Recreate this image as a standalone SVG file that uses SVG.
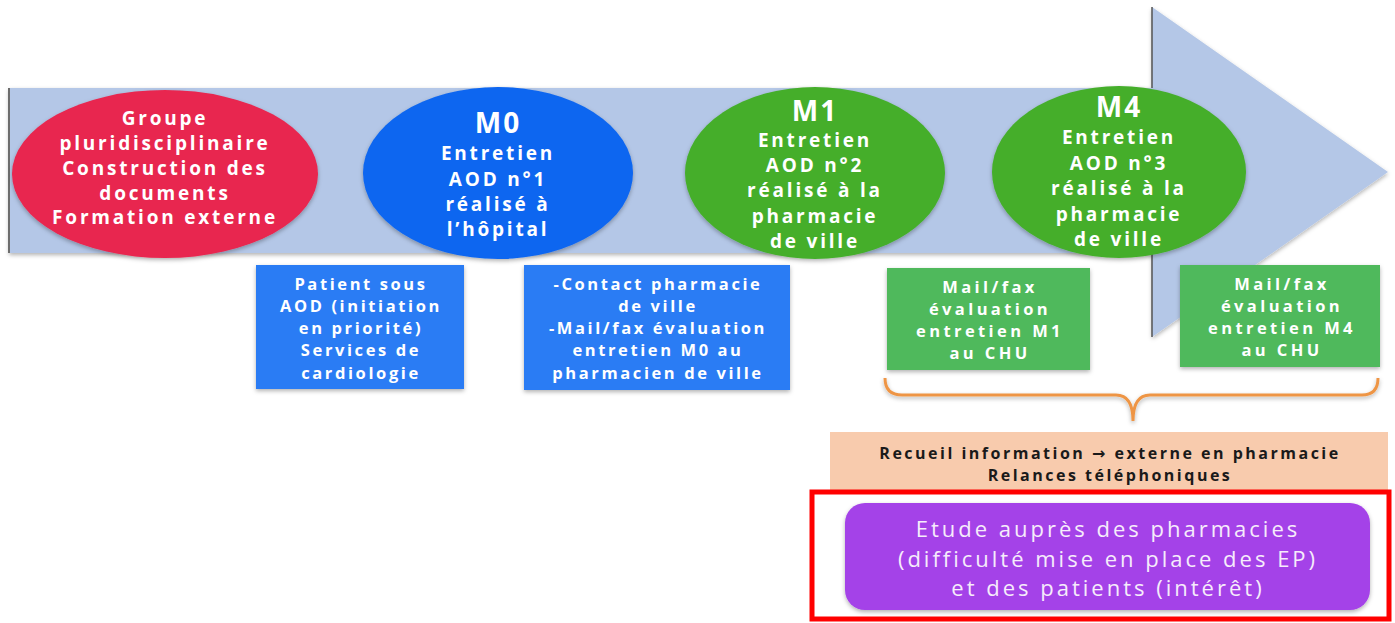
<svg xmlns="http://www.w3.org/2000/svg" width="1395" height="623" viewBox="0 0 1395 623">
<style>
  .t { font-family: "Open Sans", "Liberation Sans", sans-serif; font-weight: 700; fill: #ffffff; text-anchor: middle; }
  .c { font-size: 19px; letter-spacing: 2.8px; }
  .big { font-size: 28px; letter-spacing: 2px; }
  .bx { font-size: 16.5px; letter-spacing: 2.6px; }
  .gx { font-size: 16.5px; letter-spacing: 3.4px; }
  .pe { font-family: "Open Sans", "Liberation Sans", sans-serif; font-weight: 700; fill: #1a1a1a; text-anchor: middle; font-size: 16px; letter-spacing: 2.5px; }
  .ar { font-family: "DejaVu Sans", sans-serif; font-weight: 700; }
  .pu { font-family: "Open Sans", "Liberation Sans", sans-serif; font-weight: 400; fill: #f6ecfb; text-anchor: middle; font-size: 22px; letter-spacing: 3px; }
</style>
<defs>
  <filter id="sh" x="-10%" y="-10%" width="120%" height="130%">
    <feDropShadow dx="0" dy="2" stdDeviation="2" flood-color="#000" flood-opacity="0.3"/>
  </filter>
</defs>
<rect width="1395" height="623" fill="#ffffff"/>

<g id="arrow">
  <polygon points="9,88 1152,88 1152,7 1388,172 1152,337 1152,253 9,253" fill="#b4c7e7" filter="url(#sh)"/>
  <line x1="9" y1="88" x2="9" y2="253" stroke="#6d6d6d" stroke-width="2"/>
  <line x1="1152" y1="7" x2="1152" y2="88" stroke="#555" stroke-width="1.5"/>
  <line x1="1152" y1="253" x2="1152" y2="337" stroke="#555" stroke-width="1.5"/>
</g>

<g id="n-groupe">
  <ellipse cx="165" cy="174" rx="153" ry="84" fill="#e8264f" filter="url(#sh)"/>
  <text class="t c" x="165" y="125">Groupe</text>
  <text class="t c" x="165" y="150">pluridisciplinaire</text>
  <text class="t c" x="165" y="175">Construction des</text>
  <text class="t c" x="165" y="200">documents</text>
  <text class="t c" x="165" y="224">Formation externe</text>
</g>

<g id="n-m0">
  <ellipse cx="498" cy="173" rx="135" ry="86" fill="#0d66f0" filter="url(#sh)"/>
  <text class="t big" x="498" y="133">M0</text>
  <text class="t c" x="498" y="160">Entretien</text>
  <text class="t c" x="498" y="186">AOD n°1</text>
  <text class="t c" x="498" y="211">réalisé à</text>
  <text class="t c" x="498" y="236">l’hôpital</text>
</g>

<g id="n-m1">
  <ellipse cx="815" cy="173" rx="130" ry="86" fill="#45ae2c" filter="url(#sh)"/>
  <text class="t big" x="815" y="121">M1</text>
  <text class="t c" x="815" y="147">Entretien</text>
  <text class="t c" x="815" y="172">AOD n°2</text>
  <text class="t c" x="815" y="197">réalisé à la</text>
  <text class="t c" x="815" y="223">pharmacie</text>
  <text class="t c" x="815" y="248">de ville</text>
</g>

<g id="n-m4">
  <ellipse cx="1119" cy="172" rx="127" ry="86" fill="#45ae2c" filter="url(#sh)"/>
  <text class="t big" x="1119" y="117">M4</text>
  <text class="t c" x="1119" y="144">Entretien</text>
  <text class="t c" x="1119" y="170">AOD n°3</text>
  <text class="t c" x="1119" y="195">réalisé à la</text>
  <text class="t c" x="1119" y="221">pharmacie</text>
  <text class="t c" x="1119" y="246">de ville</text>
</g>

<g id="b-patient">
  <rect x="256" y="265" width="208" height="124" fill="#2b7cf4" filter="url(#sh)"/>
  <text class="t bx" x="361" y="290">Patient sous</text>
  <text class="t bx" x="361" y="312">AOD (initiation</text>
  <text class="t bx" x="361" y="334">en priorité)</text>
  <text class="t bx" x="361" y="356">Services de</text>
  <text class="t bx" x="361" y="379">cardiologie</text>
</g>

<g id="b-contact">
  <rect x="524" y="265" width="266" height="125" fill="#2b7cf4" filter="url(#sh)"/>
  <text class="t bx" x="658" y="290">-Contact pharmacie</text>
  <text class="t bx" x="658" y="312">de ville</text>
  <text class="t bx" x="658" y="334">-Mail/fax évaluation</text>
  <text class="t bx" x="658" y="356">entretien M0 au</text>
  <text class="t bx" x="658" y="379">pharmacien de ville</text>
</g>

<g id="b-m1">
  <rect x="887" y="268" width="203" height="102" fill="#50b95c" filter="url(#sh)"/>
  <text class="t gx" x="990" y="293">Mail/fax</text>
  <text class="t gx" x="990" y="315">évaluation</text>
  <text class="t gx" x="990" y="337">entretien M1</text>
  <text class="t gx" x="990" y="359">au CHU</text>
</g>

<g id="b-m4">
  <rect x="1180" y="265" width="200" height="102" fill="#50b95c" filter="url(#sh)"/>
  <text class="t gx" x="1282" y="290">Mail/fax</text>
  <text class="t gx" x="1282" y="312">évaluation</text>
  <text class="t gx" x="1282" y="334">entretien M4</text>
  <text class="t gx" x="1282" y="356">au CHU</text>
</g>

<g id="connectors">
  <path d="M885,378 Q885,395 902,395 L1116,395 Q1133,395 1133,421 Q1133,395 1150,395 L1362,395 Q1378,395 1378,378" fill="none" stroke="#ee9545" stroke-width="3" filter="url(#sh)"/>
</g>

<g id="b-recueil">
  <rect x="830" y="432" width="558" height="58" fill="#f8cbad"/>
  <text class="pe" x="1110" y="459">Recueil information <tspan class="ar">→</tspan> externe en pharmacie</text>
  <text class="pe" x="1110" y="481">Relances téléphoniques</text>
</g>

<g id="b-etude">
  <rect x="812" y="492" width="577" height="127" fill="none" stroke="#ff0000" stroke-width="5"/>
  <rect x="845" y="503" width="525" height="107" rx="20" fill="#a443e8" filter="url(#sh)"/>
  <text class="pu" x="1108" y="537">Etude auprès des pharmacies</text>
  <text class="pu" x="1108" y="567">(difficulté mise en place des EP)</text>
  <text class="pu" x="1108" y="596">et des patients (intérêt)</text>
</g>
</svg>
